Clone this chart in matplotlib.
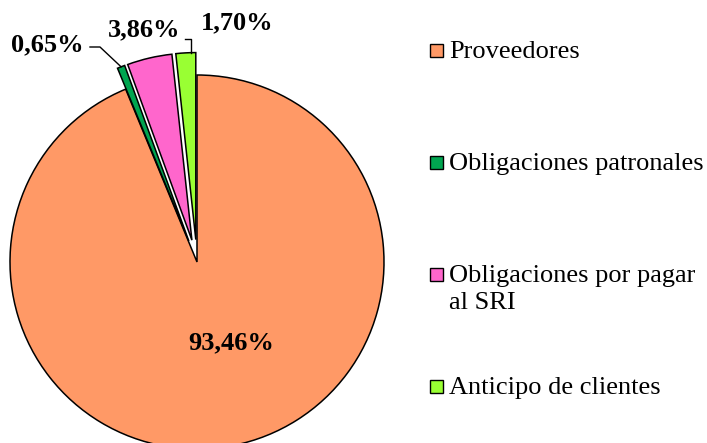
import numpy as np
import matplotlib.pyplot as plt
from matplotlib.patches import Rectangle

# datos
categorias = ['Proveedores', 'Obligaciones patronales',
              'Obligaciones por pagar\nal SRI', 'Anticipo de clientes']
valores = [93.46, 0.65, 3.86, 1.70]
etiquetas = ['93,46%', '0,65%', '3,86%', '1,70%']
colores = ['#FF9966', '#00A550', '#FF66CC', '#99FF33']
separacion = [0, 0.12, 0.12, 0.12]

W, H = 707, 443
fig = plt.figure(figsize=(W / 100, H / 100), dpi=100)
ax = fig.add_axes([0, 0, 1, 1])

# centro del pastel en pixeles y radio
cx, cy, R = 197, 262, 187

wedges, _ = ax.pie(valores, colors=colores, explode=separacion,
                   startangle=90, counterclock=False, radius=1,
                   wedgeprops=dict(edgecolor='black', linewidth=1.1),
                   frame=True)
ax.set_xlim(-cx / R, (W - cx) / R)
ax.set_ylim(-(H - cy) / R, cy / R)
ax.axis('off')


def px(x, y):
    return (x - cx) / R, (cy - y) / R


def borde(w, t):
    a = np.radians(w.theta1 + t * (w.theta2 - w.theta1))
    return w.center[0] + w.r * np.cos(a), w.center[1] + w.r * np.sin(a)


fuente = dict(family='Liberation Serif', fontweight='bold', fontsize=19)

# etiquetas de porcentaje
pos = [px(231, 343), px(47, 45), px(144, 30), px(237, 23)]
for (x, y), txt in zip(pos, etiquetas):
    ax.text(x, y, txt, ha='center', va='center', **fuente)

# lineas guia
wx, wy = borde(wedges[1], 0.5)
x0, y0 = px(90, 47)
x1, _ = px(100, 47)
ax.plot([x0, x1, wx], [y0, y0, wy], color='black', lw=1)

wx, wy = borde(wedges[3], 0.25)
x0, y0 = px(185, 39)
ax.plot([x0, wx, wx], [y0, y0, wy], color='black', lw=1)

# leyenda
filas = [50, 162, 274, 386]
for w, lab, yy in zip(wedges, categorias, filas):
    fig.patches.append(Rectangle((430 / W, 1 - (yy + 6.5) / H), 13 / W, 13 / H,
                                 transform=fig.transFigure, facecolor=w.get_facecolor(),
                                 edgecolor='black', linewidth=1))
    fig.text(449 / W, 1 - (yy - 9) / H, lab, ha='left', va='top',
             family='Liberation Serif', fontsize=19, linespacing=1.3)

fig.savefig('out.png', dpi=100)
